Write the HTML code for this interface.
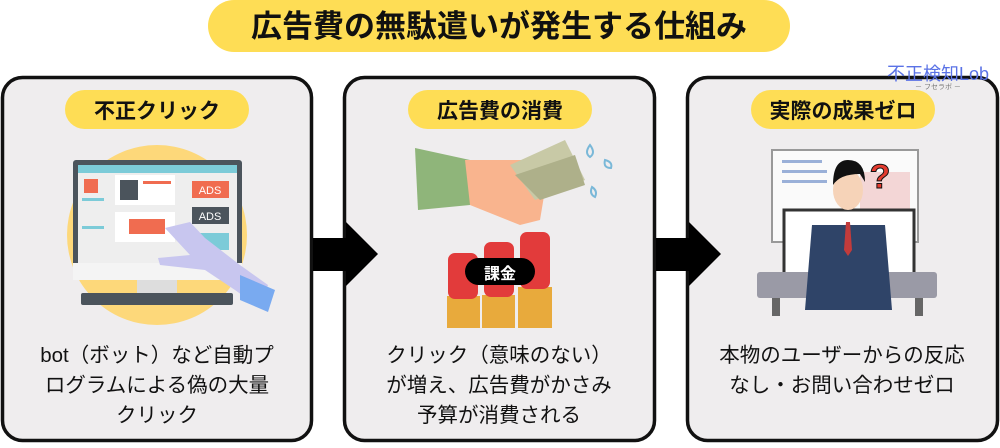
<!DOCTYPE html>
<html><head><meta charset="utf-8"><style>
body{margin:0;background:#fff;width:1000px;height:443px;overflow:hidden;font-family:"Liberation Sans","Noto Sans CJK JP",sans-serif}
svg text{font-family:"Liberation Sans","Noto Sans CJK JP",sans-serif}
</style></head><body>
<svg width="1000" height="443" viewBox="0 0 1000 443" xmlns="http://www.w3.org/2000/svg">
<!-- title -->
<rect x="208" y="0" width="582" height="52" rx="26" fill="#fedd55"/>
<text x="499" y="37" font-size="31" font-weight="bold" text-anchor="middle" fill="#111">広告費の無駄遣いが発生する仕組み</text>
<!-- panels -->
<rect x="2.5" y="77.5" width="309" height="363" rx="20" fill="#efedee" stroke="#111" stroke-width="3.5"/>
<rect x="344.5" y="77.5" width="310" height="363" rx="20" fill="#efedee" stroke="#111" stroke-width="3.5"/>
<rect x="687.5" y="77.5" width="310" height="363" rx="20" fill="#efedee" stroke="#111" stroke-width="3.5"/>
<!-- watermark -->
<text x="938" y="80" font-size="18" text-anchor="middle" fill="#5a72e6">不正検知Lob</text>
<text x="938" y="89" font-size="7" text-anchor="middle" fill="#777">－ フセラボ －</text>
<!-- arrows -->
<polygon points="313,238 346,238 346,222 378,254 346,286 346,271 313,271" fill="#000"/>
<polygon points="656,238 689,238 689,222 721,254 689,286 689,271 656,271" fill="#000"/>
<!-- badges -->
<rect x="65" y="90" width="184" height="39" rx="19.5" fill="#fedd55"/>
<text x="157" y="118" font-size="21" font-weight="bold" text-anchor="middle" fill="#111">不正クリック</text>
<rect x="408" y="90" width="184" height="39" rx="19.5" fill="#fedd55"/>
<text x="500" y="118" font-size="21" font-weight="bold" text-anchor="middle" fill="#111">広告費の消費</text>
<rect x="751" y="90" width="184" height="39" rx="19.5" fill="#fedd55"/>
<text x="843" y="118" font-size="21" font-weight="bold" text-anchor="middle" fill="#111">実際の成果ゼロ</text>
<!-- panel1 illustration -->
<circle cx="157" cy="235" r="90" fill="#fdd87a"/>
<rect x="73" y="160" width="169" height="106" rx="3" fill="#4b545c"/>
<rect x="78" y="165" width="159" height="98" fill="#eeeeee"/>
<rect x="78" y="165" width="159" height="8" fill="#7ccbd8"/>
<rect x="84" y="179" width="14" height="14" fill="#f06c50"/>
<rect x="82" y="198" width="22" height="3" fill="#7ccbd8"/>
<rect x="82" y="226" width="22" height="3" fill="#7ccbd8"/>
<rect x="115" y="175" width="60" height="30" fill="#fff"/>
<rect x="120" y="180" width="18" height="20" fill="#4b545c"/>
<rect x="143" y="181" width="28" height="3" fill="#f06c50"/>
<rect x="115" y="212" width="60" height="30" fill="#fff"/>
<rect x="129" y="219" width="36" height="15" fill="#f06c50"/>
<rect x="192" y="181" width="37" height="17" fill="#f06c50"/>
<text x="210" y="194" font-size="11" text-anchor="middle" fill="#fff">ADS</text>
<rect x="192" y="207" width="37" height="17" fill="#4b545c"/>
<text x="210" y="220" font-size="11" text-anchor="middle" fill="#fff">ADS</text>
<rect x="192" y="233" width="37" height="17" fill="#7ccbd8"/>
<rect x="73" y="263" width="169" height="17" fill="#f4f4f4"/>
<rect x="137" y="280" width="40" height="13" fill="#ddd"/>
<rect x="81" y="293" width="152" height="12" rx="2" fill="#4b545c"/>
<path d="M165 228 L190 222 L205 238 L240 265 L268 285 L260 308 L235 290 L205 270 L160 265 L158 258 L190 255 Z" fill="#c8c6ef"/>
<path d="M240 275 L275 290 L268 312 L240 300 Z" fill="#79aaf0"/>
<!-- panel2 illustration -->
<path d="M415 148 L470 160 L470 205 L418 210 Z" fill="#8fb57a"/>
<path d="M465 160 L530 160 L545 190 L540 220 L520 225 L470 205 Z" fill="#f9b48e"/>
<polygon points="510,165 565,140 585,180 535,200" fill="#c8c9a6"/>
<polygon points="515,175 575,155 585,185 540,200" fill="#aeb08a"/>
<path d="M590 145 q6 8 0 12 q-6-4 0-12z M605 160 q8 2 6 8 q-8 0-6-8z M592 187 q6 4 3 10 q-6-3-3-10z" fill="none" stroke="#7ab8d8" stroke-width="2"/>
<rect x="447" y="296" width="33" height="32" fill="#e8aa3c"/>
<rect x="482" y="295" width="33" height="33" fill="#e8aa3c"/>
<rect x="518" y="287" width="34" height="41" fill="#e8aa3c"/>
<rect x="448" y="253" width="30" height="46" rx="7" fill="#e23b3b"/>
<rect x="484" y="242" width="30" height="55" rx="7" fill="#e23b3b"/>
<rect x="520" y="232" width="30" height="57" rx="7" fill="#e23b3b"/>
<rect x="465" y="258" width="70" height="27" rx="13.5" fill="#000"/>
<text x="500" y="279" font-size="16" font-weight="bold" text-anchor="middle" fill="#fff">課金</text>
<!-- panel3 illustration -->
<rect x="772" y="150" width="146" height="92" fill="#fafafa" stroke="#999" stroke-width="2"/>
<rect x="782" y="160" width="40" height="3" fill="#9ab0d8"/>
<rect x="782" y="170" width="45" height="3" fill="#9ab0d8"/>
<rect x="782" y="180" width="45" height="3" fill="#9ab0d8"/>
<rect x="860" y="172" width="50" height="55" fill="#f3d6d6"/>
<rect x="784" y="210" width="130" height="65" fill="#fff" stroke="#333" stroke-width="3"/>
<rect x="757" y="272" width="180" height="26" rx="3" fill="#9a9aa6"/>
<rect x="772" y="298" width="8" height="18" fill="#666"/>
<rect x="915" y="298" width="8" height="18" fill="#666"/>
<path d="M812 225 L885 225 L892 310 L805 310 Z" fill="#2f4468"/>
<ellipse cx="848" cy="190" rx="15" ry="20" fill="#f6d3b8"/>
<path d="M833 185 q0-25 15-25 q17 0 17 22 l-5-8 q-20 0-27 11z" fill="#111"/>
<polygon points="846,222 850,222 852,250 848,256 844,250" fill="#c23b3b"/>
<text x="880" y="188" font-size="34" font-weight="bold" text-anchor="middle" fill="#e43b2f" stroke="#111" stroke-width="1">?</text>
<!-- texts -->
<g font-size="20.5" fill="#111" text-anchor="middle">
<text x="157" y="362">bot（ボット）など自動プ</text>
<text x="157" y="392">ログラムによる偽の大量</text>
<text x="157" y="422">クリック</text>
<text x="499" y="362">クリック（意味のない）</text>
<text x="499" y="392">が増え、広告費がかさみ</text>
<text x="499" y="422">予算が消費される</text>
<text x="842" y="362">本物のユーザーからの反応</text>
<text x="842" y="392">なし・お問い合わせゼロ</text>
</g>
</svg>
</body></html>
